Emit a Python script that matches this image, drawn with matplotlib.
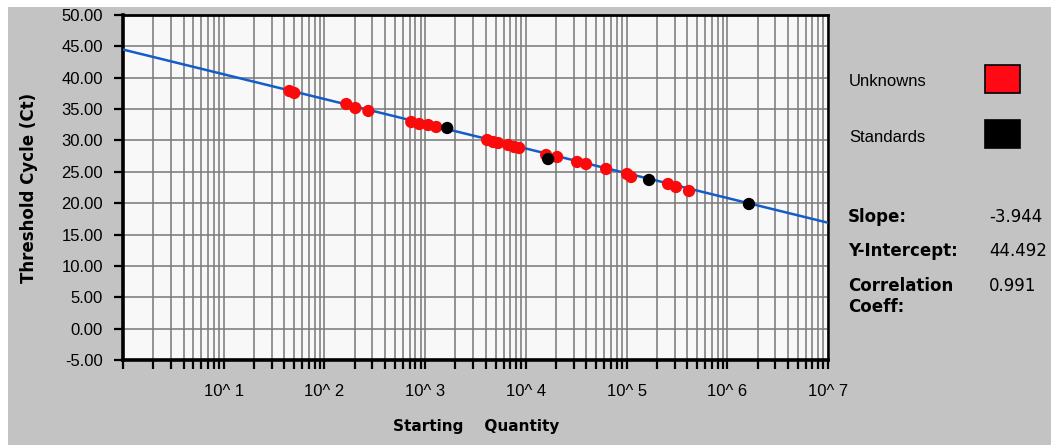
import numpy as np
import matplotlib
matplotlib.use("Agg")
import matplotlib.pyplot as plt
from matplotlib.ticker import FixedLocator, FuncFormatter, NullFormatter, LogLocator
from matplotlib.patches import Rectangle

plt.rcParams['font.family'] = ['Liberation Sans', 'DejaVu Sans']

# standard curve fit
slope = -3.944
intercept = 44.492
corr_coeff = 0.991

# unknown samples: starting quantity / threshold cycle
unk_qty = [44.9, 50.2, 165, 203, 273, 728, 873, 1074, 1288,
           4130, 4742, 5309, 6668, 7656, 8590, 15890, 20460, 32280, 39630,
           62660, 101200, 110900, 258200, 309700, 416900]
unk_ct = [37.88, 37.57, 35.81, 35.17, 34.70, 32.94, 32.62, 32.46, 32.15,
          30.07, 29.75, 29.59, 29.28, 28.96, 28.80, 27.68, 27.36, 26.57, 26.25,
          25.45, 24.65, 24.18, 23.06, 22.58, 21.94]

# standards
std_qty = [1656, 16630, 167100, 1641000]
std_ct = [31.99, 27.04, 23.70, 19.87]

W, H = 1051, 445
fig = plt.figure(figsize=(W / 100, H / 100), dpi=100, facecolor='#c3c3c3')

def fx(px):
    return px / W

def fy(py):
    return 1 - py / H

# white margins on the left and top
fig.patches.append(Rectangle((0, 0), fx(8), 1, transform=fig.transFigure,
                             facecolor='white', edgecolor='none'))
fig.patches.append(Rectangle((0, fy(7)), 1, 7 / H, transform=fig.transFigure,
                             facecolor='white', edgecolor='none'))

ax = fig.add_axes([fx(123), fy(360), fx(828) - fx(123), fy(15) - fy(360)])
ax.set_facecolor('#f8f8f8')
ax.set_xscale('log')
ax.set_xlim(1, 1e7)
ax.set_ylim(-5, 50)

# axes ticks / grid
ax.xaxis.set_major_locator(FixedLocator([10.0 ** k for k in range(0, 8)]))
ax.xaxis.set_minor_locator(LogLocator(base=10, subs=np.arange(2, 10), numticks=20))
ax.xaxis.set_major_formatter(FuncFormatter(
    lambda v, p: '' if v < 5 else '10^ %d' % round(np.log10(v))))
ax.xaxis.set_minor_formatter(NullFormatter())
ax.yaxis.set_major_locator(FixedLocator(np.arange(-5, 51, 5)))
ax.yaxis.set_major_formatter(FuncFormatter(lambda v, p: '%.2f' % v))

gcol = '#7c7c7c'
ax.grid(True, which='both', axis='x', color=gcol, lw=1.15)
ax.grid(True, which='major', axis='y', color=gcol, lw=1.15)
ax.set_axisbelow(True)

ax.tick_params(axis='x', which='both', direction='out', length=6.5, width=1.6,
               pad=11, labelsize=12, color='black')
ax.tick_params(axis='y', which='major', direction='out', length=6.5, width=1.6,
               pad=8, labelsize=12, color='black')

for side, lw in [('left', 2.6), ('bottom', 2.6), ('top', 2.0), ('right', 1.8)]:
    ax.spines[side].set_linewidth(lw)
    ax.spines[side].set_color('black')

# regression line
xs = np.logspace(0, 7, 60)
ax.plot(xs, intercept + slope * np.log10(xs), color='#145cc8', lw=1.8, zorder=3)

ax.scatter(unk_qty, unk_ct, s=78, color='#fa0a0a', edgecolors='none', zorder=4)
ax.scatter(std_qty, std_ct, s=78, color='black', edgecolors='none', zorder=5)

bold = dict(family='DejaVu Sans', weight='bold')
ax.set_ylabel('Threshold Cycle (Ct)', fontsize=12, labelpad=17, **bold)
fig.text(fx(476), fy(427), 'Starting    Quantity', ha='center', va='center',
         fontsize=11, **bold)

# legend
fig.text(fx(849), fy(81), 'Unknowns', fontsize=12, va='center', ha='left')
fig.text(fx(849), fy(137), 'Standards', fontsize=12, va='center', ha='left')
fig.patches.append(Rectangle((fx(985), fy(93)), 35 / W, 28 / H, transform=fig.transFigure,
                             facecolor='#ff0a14', edgecolor='black', lw=1.2))
fig.patches.append(Rectangle((fx(985), fy(148)), 35 / W, 28 / H, transform=fig.transFigure,
                             facecolor='black', edgecolor='black', lw=1.2))

# fit statistics
stats = [('Slope:', '%.3f' % slope, 217),
         ('Y-Intercept:', '%.3f' % intercept, 251),
         ('Correlation', '%.3f' % corr_coeff, 286)]
for lab, val, py in stats:
    fig.text(fx(848), fy(py), lab, fontsize=12, va='center', ha='left', **bold)
    fig.text(fx(989), fy(py), val, fontsize=12, va='center', ha='left',
             family='DejaVu Sans')
fig.text(fx(848), fy(307), 'Coeff:', fontsize=12, va='center', ha='left', **bold)

fig.savefig('out.png', dpi=100, facecolor=fig.get_facecolor())
